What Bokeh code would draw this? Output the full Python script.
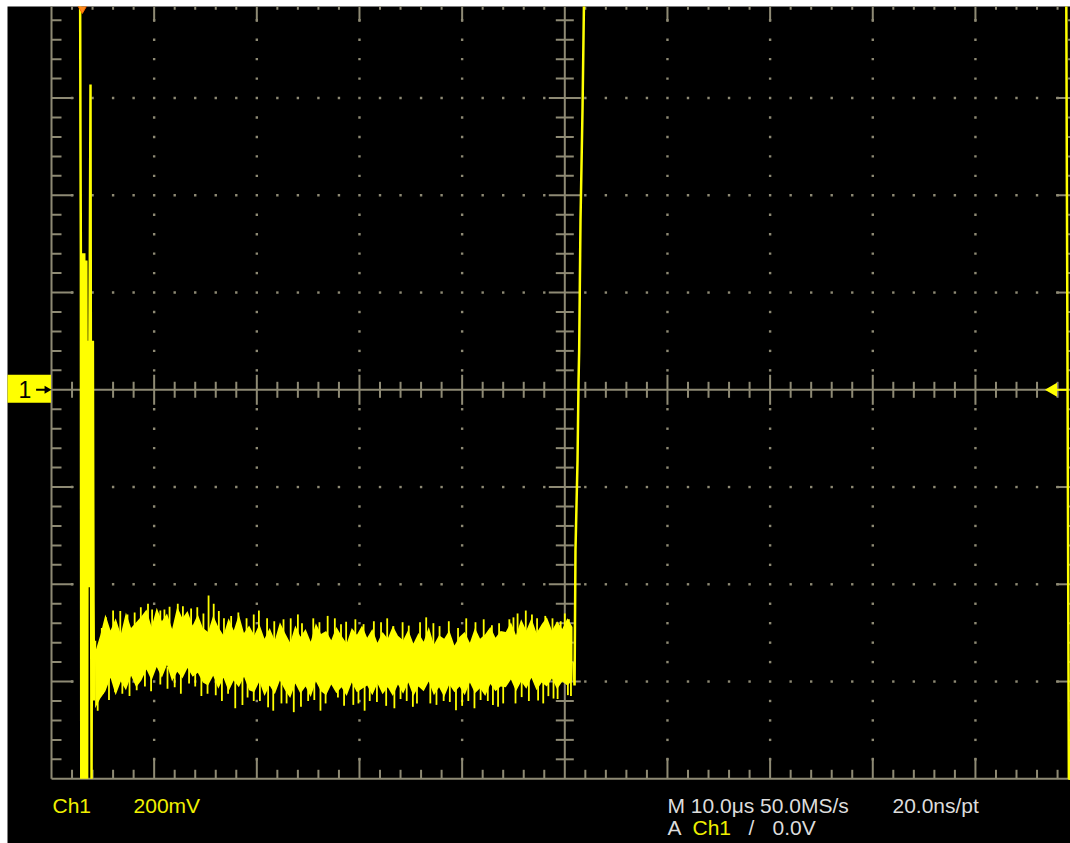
import numpy as np
from bokeh.plotting import figure
from bokeh.models import Range1d
from bokeh.embed import file_html
from bokeh.resources import INLINE
from bokeh.core.properties import value

# ---------------- scope settings ----------------
T_DIV = 10.0      # us / div
V_DIV = 0.2       # V / div (200 mV)
N_HDIV = 10
N_VDIV = 8

# ---------------- waveform data (time in us, volts; off-screen values shown at the graticule edge) ----------
lead_t = [-4.5, 2.79, 2.82, 2.86, 2.90, 3.00, 3.10, 3.19, 3.29, 3.39, 3.47, 3.53, 3.62, 3.70, 3.80, 3.86,
          3.90, 3.95, 4.03, 4.09, 4.15, 4.24]
lead_v = [0.8, 0.8, 0.534, 0.281, -0.8, 0.281, -0.8, 0.281, -0.8, 0.266, -0.8, 0.101, -0.406, 0.101, 0.628,
          -0.406, -0.8, -0.406, 0.101, -0.433, -0.639, -0.516]

band_t = np.arange(4.25, 51.0, 0.5)
band_hi = [-0.540, -0.505,
           -0.462, -0.495, -0.470, -0.503, -0.458, -0.490, -0.478, -0.466,
           -0.452, -0.488, -0.448, -0.476, -0.460, -0.492, -0.446, -0.470, -0.455, -0.485, -0.462, -0.490,
           -0.498, -0.464, -0.488, -0.505, -0.470, -0.495, -0.462, -0.500, -0.485,
           -0.505, -0.482, -0.512, -0.490, -0.515, -0.478, -0.500, -0.520, -0.485, -0.508, -0.492,
           -0.518, -0.480, -0.502, -0.496, -0.515, -0.488, -0.506, -0.522, -0.490, -0.504, -0.485,
           -0.510, -0.492, -0.520, -0.498, -0.512, -0.486, -0.506,
           -0.515, -0.494, -0.522, -0.500, -0.518, -0.488, -0.524, -0.505, -0.512, -0.495,
           -0.526, -0.508, -0.498, -0.520, -0.490, -0.512, -0.503, -0.488, -0.510, -0.496,
           -0.498, -0.478, -0.505, -0.472, -0.495, -0.470, -0.500, -0.482, -0.468, -0.495, -0.476,
           -0.492, -0.470, -0.488]
band_lo = [-0.655, -0.635,
           -0.620, -0.592, -0.628, -0.600, -0.618, -0.588, -0.612, -0.598,
           -0.575, -0.598, -0.570, -0.592, -0.566, -0.600, -0.580, -0.594, -0.572, -0.590, -0.582, -0.602,
           -0.608, -0.588, -0.615, -0.592, -0.620, -0.598, -0.612, -0.590, -0.618,
           -0.622, -0.600, -0.630, -0.608, -0.626, -0.598, -0.618, -0.634, -0.604, -0.625, -0.610,
           -0.632, -0.600, -0.620, -0.628, -0.606, -0.624, -0.612, -0.630, -0.602, -0.622, -0.615,
           -0.608, -0.628, -0.604, -0.626, -0.612, -0.630, -0.606,
           -0.625, -0.602, -0.630, -0.610, -0.620, -0.600, -0.628, -0.612, -0.632, -0.606,
           -0.622, -0.610, -0.628, -0.602, -0.624, -0.614, -0.630, -0.605, -0.620, -0.610,
           -0.612, -0.596, -0.620, -0.600, -0.615, -0.592, -0.618, -0.602, -0.610, -0.594, -0.616,
           -0.600, -0.608, -0.598]

spk_up_t = [4.9, 5.3, 6.0, 6.7, 7.4, 8.1, 8.7, 9.4, 9.8, 10.6, 11.0, 11.5, 12.3, 12.8, 13.6, 14.2, 14.8,
            15.3, 15.8, 16.3, 16.8, 17.5, 18.2, 19.0, 19.7, 20.2, 21.0, 21.7, 22.6, 23.3, 24.0, 24.4,
            25.5, 26.1, 26.9, 27.6, 28.2, 28.7, 29.6, 30.4, 31.4, 32.1, 32.7, 33.3, 34.2, 34.8, 35.9,
            36.5, 37.2, 37.8, 38.7, 39.6, 40.4, 41.3, 42.1, 42.9, 43.6, 44.6, 45.0, 45.4, 46.2, 46.8,
            47.3, 48.1, 48.8, 49.6, 50.0, 50.4]
spk_up_v = [-0.490, -0.468, -0.454, -0.455, -0.462, -0.458, -0.447, -0.440, -0.452, -0.454, -0.452,
            -0.446, -0.440, -0.445, -0.450, -0.447, -0.460, -0.423, -0.440, -0.455, -0.470, -0.465,
            -0.458, -0.470, -0.462, -0.454, -0.470, -0.476, -0.472, -0.470, -0.462, -0.480, -0.470,
            -0.478, -0.465, -0.470, -0.482, -0.477, -0.472, -0.482, -0.476, -0.478, -0.470, -0.486,
            -0.478, -0.485, -0.478, -0.468, -0.480, -0.486, -0.476, -0.490, -0.470, -0.478, -0.472,
            -0.484, -0.480, -0.472, -0.468, -0.460, -0.454, -0.462, -0.470, -0.465, -0.470, -0.476,
            -0.460, -0.472]
spk_dn_t = [4.5, 5.0, 5.6, 6.2, 6.9, 7.6, 8.3, 9.1, 9.7, 10.6, 11.3, 12.0, 12.6, 13.4, 14.0, 14.6, 15.2,
            16.0, 16.6, 17.2, 17.9, 18.6, 19.1, 19.7, 20.3, 21.1, 21.6, 22.4, 22.9, 23.6, 24.3, 25.0,
            25.6, 26.2, 26.7, 27.9, 28.5, 29.4, 29.9, 30.5, 31.0, 31.7, 32.6, 33.4, 34.0, 34.6, 35.2,
            35.6, 36.9, 37.5, 38.2, 38.8, 39.4, 40.0, 40.6, 41.2, 41.8, 42.5, 43.0, 43.5, 44.0, 45.2,
            45.8, 46.5, 47.4, 47.9, 48.4, 48.9, 49.3, 50.3, 50.6]
spk_dn_v = [-0.660, -0.625, -0.638, -0.622, -0.625, -0.630, -0.618, -0.610, -0.620, -0.606, -0.615,
            -0.612, -0.625, -0.604, -0.610, -0.630, -0.625, -0.628, -0.640, -0.625, -0.655, -0.648,
            -0.633, -0.640, -0.640, -0.653, -0.660, -0.645, -0.645, -0.663, -0.652, -0.640, -0.638,
            -0.660, -0.645, -0.633, -0.650, -0.648, -0.645, -0.660, -0.640, -0.642, -0.650, -0.655,
            -0.636, -0.640, -0.652, -0.645, -0.645, -0.648, -0.640, -0.642, -0.659, -0.650, -0.640,
            -0.655, -0.638, -0.640, -0.648, -0.652, -0.645, -0.645, -0.632, -0.640, -0.639, -0.645,
            -0.630, -0.635, -0.636, -0.628, -0.630]

rise_t = [50.85, 50.95, 51.04, 51.24, 51.34, 51.40, 51.53, 51.73, 51.87, 98.85, 99.10, 99.6]
rise_v = [-0.560, -0.608, -0.330, -0.145, 0.019, 0.081, 0.348, 0.581, 0.8, 0.8, -0.8, -0.8]

trig_pos_t = 3.0     # trigger position marker (us)
trig_level_v = 0.0   # trigger level (V)

# readout texts
ch_label = "Ch1"
scale_label = "200mV"
time_label = "M 10.0μs 50.0MS/s"
rate_label = "20.0ns/pt"
trig_src = ["A", "Ch1", "/", "0.0V"]

# ---------------- figure ----------------
PX_T = 1 / 10.266    # us per pixel
PX_V = 1 / 486.25    # V per pixel
XMAX = T_DIV * N_HDIV
YMAX = V_DIV * N_VDIV / 2

p = figure(width=1070, height=843, x_range=Range1d(-4.286, 99.26), y_range=Range1d(-0.9331, 0.7883),
           output_backend="svg", toolbar_location=None, x_axis_type=None, y_axis_type=None,
           min_border_left=7, min_border_top=6, min_border_right=0, min_border_bottom=0,
           background_fill_color="black", border_fill_color="white", outline_line_color=None,
           title=None)

gcol = "#8e8a74"

# border and centre lines
p.segment(x0=[0, 0, 0, XMAX, XMAX / 2, 0], y0=[-YMAX, YMAX, -YMAX, -YMAX, -YMAX, 0],
          x1=[XMAX, XMAX, 0, XMAX, XMAX / 2, XMAX], y1=[-YMAX, YMAX, YMAX, YMAX, YMAX, 0],
          line_color=gcol, line_width=2)

minor_t = np.round(np.arange(0, XMAX + 0.01, T_DIV / 5), 4)
minor_v = np.round(np.arange(-YMAX, YMAX + 0.001, V_DIV / 5), 4)
inner_t = [t for t in minor_t if 0 < t < XMAX]
inner_v = [v for v in minor_v if -YMAX < v < YMAX]

def is_major_t(t):
    return abs(t / T_DIV - round(t / T_DIV)) < 1e-6

def is_major_v(v):
    return abs(v / V_DIV - round(v / V_DIV)) < 1e-6

sx0, sy0, sx1, sy1 = [], [], [], []
for t in inner_t:
    if abs(t - XMAX / 2) < 1e-6:
        continue
    big = is_major_t(t)
    h = (15 if big else 8) * PX_V
    sx0 += [t]; sy0 += [-h]; sx1 += [t]; sy1 += [h]
    L = (21 if big else 9) * PX_V
    sx0 += [t, t]; sy0 += [-YMAX, YMAX]; sx1 += [t, t]; sy1 += [-YMAX + L, YMAX - L]
for v in inner_v:
    if abs(v) < 1e-6:
        continue
    big = is_major_v(v)
    h = (16 if big else 9) * PX_T
    sx0 += [XMAX / 2 - h]; sy0 += [v]; sx1 += [XMAX / 2 + h]; sy1 += [v]
    L = (22 if big else 10) * PX_T
    sx0 += [0, XMAX]; sy0 += [v, v]; sx1 += [L, XMAX - L]; sy1 += [v, v]
p.segment(x0=sx0, y0=sy0, x1=sx1, y1=sy1, line_color=gcol, line_width=2)

# grid dots
dx, dy = [], []
for gt in np.arange(T_DIV, XMAX, T_DIV):
    if abs(gt - XMAX / 2) < 1e-6:
        continue
    for v in inner_v:
        if abs(v) < 1e-6:
            continue
        dx.append(gt); dy.append(v)
for gv in np.arange(-YMAX + V_DIV, YMAX - 1e-6, V_DIV):
    if abs(gv) < 1e-6:
        continue
    for t in inner_t:
        if abs(t - XMAX / 2) < 1e-6 or is_major_t(t):
            continue
        dx.append(t); dy.append(gv)
p.scatter(dx, dy, marker="square", size=2.4, fill_color=gcol, line_color=None)

# ---------------- waveform ----------------
yel = "#ffff00"
p.varea(x=band_t, y1=band_lo, y2=band_hi, fill_color=yel)
p.segment(x0=spk_up_t, y0=[-0.53] * len(spk_up_t), x1=spk_up_t, y1=spk_up_v, line_color=yel, line_width=1.8)
p.segment(x0=spk_dn_t, y0=[-0.57] * len(spk_dn_t), x1=spk_dn_t, y1=spk_dn_v, line_color=yel, line_width=1.8)
p.line(lead_t, lead_v, line_color=yel, line_width=2.5)
p.line(rise_t, rise_v, line_color=yel, line_width=2.5)

# ---------------- markers ----------------
# channel 1 ground marker on the left
p.quad(left=[-4.6], right=[-0.05], bottom=[-13 * PX_V], top=[15 * PX_V], fill_color=yel, line_color=None)
p.text(x=[-2.58], y=[0], text=["1"], text_color="black", text_font=value("Liberation Sans"),
       text_font_size="23px", text_align="center", text_baseline="middle")
p.segment(x0=[-1.5], y0=[0], x1=[-0.6], y1=[0], line_color="black", line_width=2)
p.scatter([-0.45], [0], marker="triangle", angle=-np.pi / 2, size=8, fill_color="black", line_color=None)

# trigger position (top) and trigger level (right)
p.scatter([trig_pos_t], [YMAX - 4 * PX_V], marker="inverted_triangle", size=15,
          fill_color="#ff8a1c", line_color="#ff6a00")
p.segment(x0=[97.7], y0=[trig_level_v], x1=[98.9], y1=[trig_level_v], line_color=yel, line_width=2)
p.scatter([97.55], [trig_level_v], marker="triangle", angle=np.pi / 2, size=14, fill_color=yel, line_color=None)

# ---------------- readouts ----------------
fnt = value("Liberation Sans")
yb1 = -0.8549
yb2 = -0.8998
p.text(x=[0.1, 7.99], y=[yb1, yb1], text=[ch_label, scale_label], text_color="#f0f000", text_font=fnt,
       text_font_size="21px", text_baseline="alphabetic", text_align="left")
p.text(x=[60.0, 81.92], y=[yb1, yb1], text=[time_label, rate_label], text_color="#dcdcdc", text_font=fnt,
       text_font_size="21px", text_baseline="alphabetic", text_align="left")
p.text(x=[60.0, 67.9, 70.23], y=[yb2, yb2, yb2], text=[trig_src[0], trig_src[2], trig_src[3]],
       text_color="#dcdcdc", text_font=fnt, text_font_size="21px", text_baseline="alphabetic",
       text_align="left")
p.text(x=[62.44], y=[yb2], text=[trig_src[1]], text_color="#f0f000", text_font=fnt,
       text_font_size="21px", text_baseline="alphabetic", text_align="left")

open("out.html", "w").write(file_html(p, INLINE))
